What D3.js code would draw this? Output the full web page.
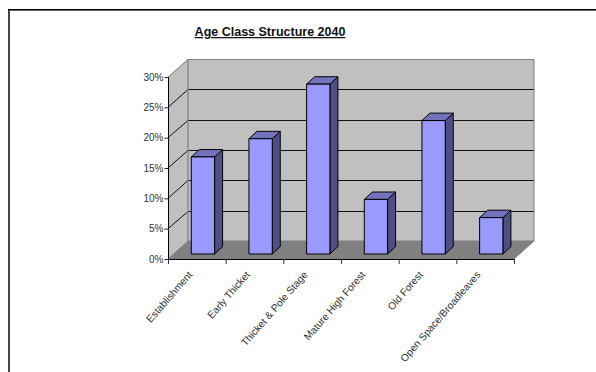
<!DOCTYPE html>
<html><head><meta charset="utf-8">
<script src="https://cdn.jsdelivr.net/npm/d3@7"></script>
<style>html,body{margin:0;padding:0;background:#fff}svg{display:block}text{font-family:"Liberation Sans",Arial,sans-serif}</style>
</head><body><script>
const categories=["Establishment","Early Thicket","Thicket & Pole Stage","Mature High Forest","Old Forest","Open Space/Broadleaves"];
const values=[16,19,28,9,22,6];
const yTicks=[0,5,10,15,20,25,30];
const title="Age Class Structure 2040";
const W=596,H=372;
const svg=d3.select("body").append("svg").attr("width",W).attr("height",H);
const x=d3.scaleBand().domain(categories).range([168,514]).paddingInner(0).paddingOuter(0);
const y=d3.scaleLinear().domain([0,30]).range([259,77]);
const dx=20,dy=-18;
const poly=(pts,fill,stroke,sw)=>svg.append("polygon").attr("points",pts.map(p=>p.join(",")).join(" ")).attr("fill",fill).attr("stroke",stroke||"none").attr("stroke-width",sw||0).attr("stroke-linejoin","miter");
// frame
svg.append("path").attr("d",`M9,${H}V10`).attr("fill","none").attr("stroke","#444").attr("stroke-width",2);
svg.append("path").attr("d",`M8,9.5H${W}`).attr("fill","none").attr("stroke","#000").attr("stroke-width",1);
svg.append("path").attr("d",`M10,10.5H${W}`).attr("fill","none").attr("stroke","#666").attr("stroke-width",1);
// walls
const x0=x.range()[0],x1=x.range()[1],y0=y(0),yT=y(30);
poly([[x0+dx,yT+dy],[x1+dx,yT+dy],[x1+dx,y0+dy],[x0+dx,y0+dy]],"#c0c0c0");
poly([[x0,yT],[x0+dx,yT+dy],[x0+dx,y0+dy],[x0,y0]],"#c0c0c0");
poly([[x0,y0],[x0+dx,y0+dy],[x1+dx,y0+dy],[x1,y0]],"#808080");
// gridlines
const grid=svg.append("g");
yTicks.filter(t=>t>0&&t<30).forEach(t=>{
  grid.append("path").attr("d",`M${x0},${y(t)}L${x0+dx},${Math.round(y(t)+dy)+.5}H${x1+dx}`).attr("fill","none").attr("stroke","#111").attr("stroke-width",1);
});
// wall outlines
svg.append("path").attr("d",`M${x0},${yT}L${x0+dx},${yT+dy+.5}H${x1+dx}V${y0+dy}L${x1},${y0}`).attr("fill","none").attr("stroke","#808080").attr("stroke-width",1);
svg.append("path").attr("d",`M${x0+dx},${yT+dy}V${y0+dy}H${x1+dx}`).attr("fill","none").attr("stroke","#808080").attr("stroke-width",1.2);
svg.append("path").attr("d",`M${x0},${y0}L${x0+dx},${y0+dy}`).attr("fill","none").attr("stroke","#808080").attr("stroke-width",1);
// bars
const ox=6.1,oy=-5,bw=23.3,bx=8,by=-7.4;
categories.forEach((c,i)=>{
  const l=x(c)+(x.bandwidth()-bw)/2+ox,r=l+bw;
  const b=y(0)+oy,t=y(values[i])+oy;
  poly([[r,t],[r+bx,t+by],[r+bx,b+by],[r,b]],"#4f4f85","#000",1);
  poly([[l,t],[l+bx,t+by],[r+bx,t+by],[r,t]],"#7272bd","#000",1);
  poly([[l,t],[r,t],[r,b],[l,b]],"#9999ff","#000",1);
});
// axes
const ax=d3.axisLeft(y).tickValues(yTicks).tickFormat(d=>d+"%").tickSize(4).tickPadding(1);
const gy=svg.append("g").attr("transform",`translate(${x0+.5},0)`).call(ax);
gy.select(".domain").attr("stroke","#000").attr("d",`M0,${y0}V${yT}`);
gy.selectAll(".tick line").attr("stroke","#222");
gy.selectAll("text").attr("font-size",10).attr("fill","#333").style("font-family",'"Liberation Sans",Arial,sans-serif');
svg.append("line").attr("x1",x0).attr("x2",x1).attr("y1",y0+.5).attr("y2",y0+.5).attr("stroke","#000").attr("stroke-width",1);
const tickXs=categories.map(c=>x(c)).concat([x1]);
svg.append("g").selectAll("line").data(tickXs).join("line").attr("x1",d=>d+.5).attr("x2",d=>d+.5).attr("y1",y0).attr("y2",y0+5).attr("stroke","#333");
svg.append("g").selectAll("text").data(categories).join("text")
  .attr("transform",c=>`translate(${x(c)+x.bandwidth()/2-4},${y0+16}) rotate(-49)`)
  .attr("text-anchor","end").attr("font-size",10.2).attr("fill","#333").text(c=>c);
svg.append("text").attr("x",270).attr("y",36).attr("text-anchor","middle").attr("font-size",12.5).attr("font-weight","bold").attr("text-decoration","underline").attr("fill","#111").text(title);
</script></body></html>
